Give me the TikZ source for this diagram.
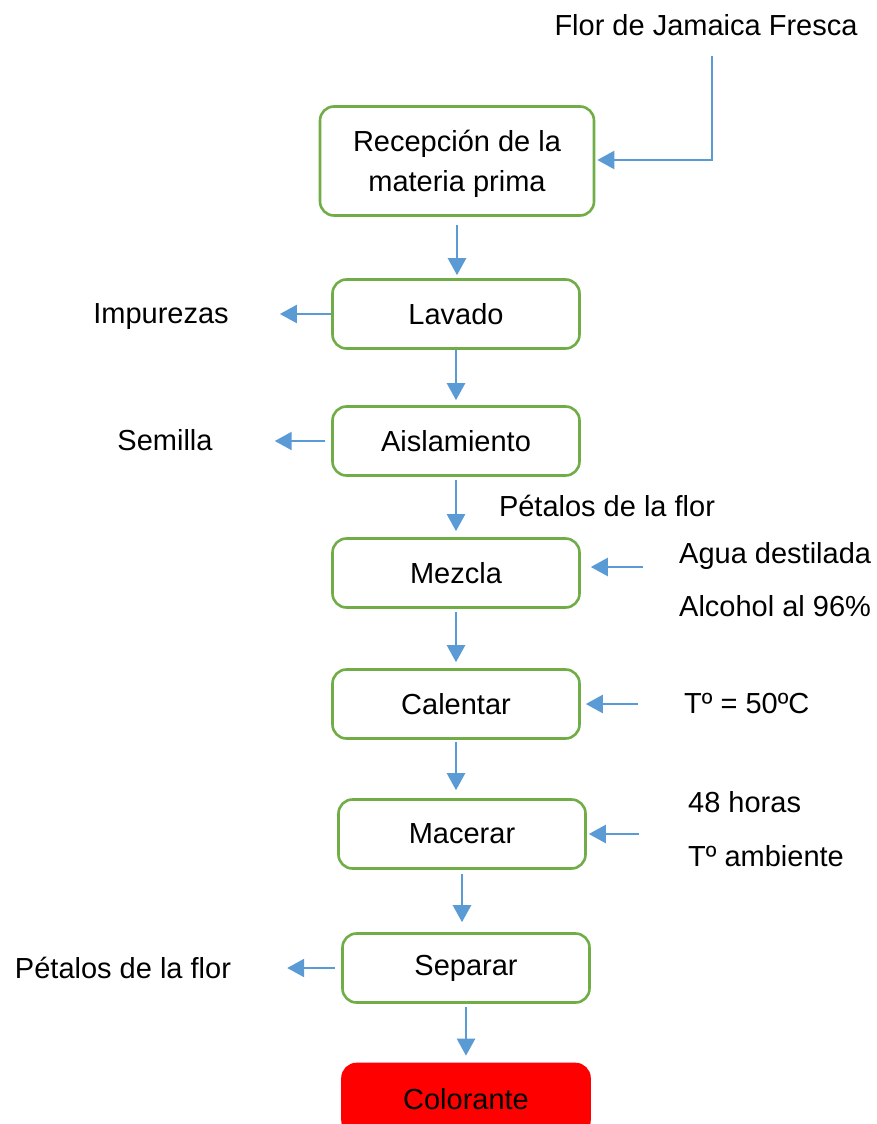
\documentclass[tikz,border=0pt]{standalone}
\usepackage{fontspec}
\setmainfont{Liberation Sans}
\usetikzlibrary{shapes,arrows.meta,positioning}

\definecolor{verde}{HTML}{70AD47}
\definecolor{azul}{HTML}{5B9BD5}

\begin{document}
\begin{tikzpicture}
		[
		x = 1pt, y = -1pt,
		every node/.style = {font = \fontsize{29}{40}\selectfont},
		etapa/.style = {draw = verde, line width = 2.6pt, rounded corners = 14pt,
			fill = white, minimum width = 247pt, minimum height = 69pt, align = center},
		final/.style = {etapa, draw = red, fill = red},
		nota/.style = {inner sep = 0pt, text height = 21pt, text depth = 6pt},
		flecha/.style = {draw = azul, line width = 2.4pt,
			-{Triangle[length = 17pt, width = 18pt]}}
		]
		
		\useasboundingbox (0,0) rectangle (877,1124);
		
		% etapas del proceso
		\node[etapa, minimum width = 274pt, minimum height = 109pt] (rec) at (457,161) {\rule{0pt}{27pt}Recepción de la\\materia prima};
		\node[etapa] (lav) at (456,314) {Lavado};
		\node[etapa] (ais) at (456,441) {Aislamiento};
		\node[etapa] (mez) at (456,573) {Mezcla};
		\node[etapa] (cal) at (456,704) {Calentar};
		\node[etapa] (mac) at (462,834) {Macerar};
		\node[etapa] (sep) at (466,968) {Separar};
		\node[final, minimum height = 70pt] (col) at (466,1099) {Colorante};
		
		% entradas y salidas
		\node[nota] (flor) at (706,28) {Flor de Jamaica Fresca};
		\node[nota] (imp) at (161,316) {Impurezas};
		\node[nota] (sem) at (165,443) {Semilla};
		\node[nota] (pet) at (607,509) {Pétalos de la flor};
		\node[nota, anchor = west] (agua) at (679,556) {Agua destilada};
		\node[nota, anchor = west] (alc) at (679,609) {Alcohol al 96\%};
		\node[nota, anchor = west] (temp) at (684,706) {Tº = 50ºC};
		\node[nota, anchor = west] (hor) at (688,805) {48 horas};
		\node[nota, anchor = west] (amb) at (688,859) {Tº ambiente};
		\node[nota] (res) at (123,971) {Pétalos de la flor};
		
		\coordinate (esq) at (712,160);
		
		% flujo principal
		\draw[flecha] ([yshift = -14pt]flor.south -| esq) -- (esq) -- ([xshift = 2pt]rec.east |- esq);
		\draw[flecha] ([yshift = -8pt]rec.south) -- ([yshift = 3pt]rec.south |- lav.north);
		\draw[flecha] (lav.south) -- ([yshift = 5pt]ais.north);
		\draw[flecha] ([yshift = -3pt]ais.south) -- ([yshift = 6pt]mez.north);
		\draw[flecha] ([yshift = -3pt]mez.south) -- ([yshift = 6pt]cal.north);
		\draw[flecha] ([yshift = -2pt]cal.south) -- ([yshift = 8pt]cal.south |- mac.north);
		\draw[flecha] ([yshift = -4pt]mac.south) -- ([yshift = 10pt]mac.south |- sep.north);
		\draw[flecha] ([yshift = -3pt]sep.south) -- ([yshift = 7pt]sep.south |- col.north);
		
		% flechas laterales
		\draw[flecha] (lav.west) -- ([xshift = 51pt]imp.east |- lav.west);
		\draw[flecha] ([xshift = -6pt]ais.west) -- ([xshift = 62pt]sem.east |- ais.west);
		\draw[flecha] ([xshift = 62pt, yshift = 6pt]mez.east) -- ([xshift = 10pt, yshift = 6pt]mez.east);
		\draw[flecha] ([xshift = 57pt]cal.east) -- ([xshift = 5pt]cal.east);
		\draw[flecha] ([xshift = 52pt]mac.east) -- ([xshift = 2pt]mac.east);
		\draw[flecha] ([xshift = -6pt]sep.west) -- ([xshift = 56pt]res.east |- sep.west);
		
\end{tikzpicture}
\end{document}
